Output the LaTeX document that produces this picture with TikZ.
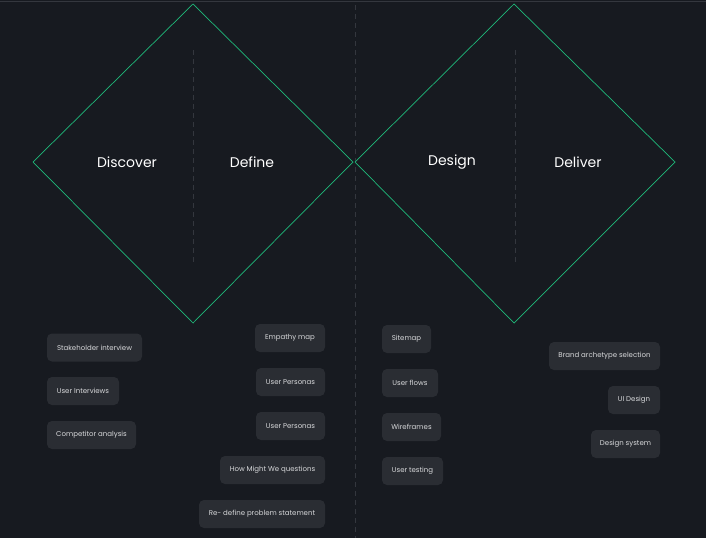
\documentclass[tikz,border=0pt]{standalone}
\usepackage{fontspec}
\setmainfont{Poppins}
\begin{document}
\begin{tikzpicture}[x=1pt,y=-1pt,
  chip/.style={fill=chipc,rounded corners=5pt,text=chipt,font=\fontsize{7}{8}\selectfont,inner sep=0pt,minimum height=28pt},
  title/.style={text=white,font=\fontsize{14}{16}\selectfont},
  dia/.style={draw=diac,line width=0.7pt},
  guide/.style={draw=guidec,dash pattern=on 5pt off 4pt,line width=0.6pt}]
\definecolor{bgc}{HTML}{171A20}
\definecolor{chipc}{HTML}{2A2D33}
\definecolor{chipt}{HTML}{D8D9DB}
\definecolor{diac}{HTML}{1FB97A}
\definecolor{guidec}{HTML}{34373E}
\fill[bgc] (0,0) rectangle (706,538);
\useasboundingbox (0,0) rectangle (706,538);
\draw[guidec,line width=1pt] (0,1) -- (706,1);
\draw[guide] (193,50) -- (193,265);
\draw[guide] (515,50) -- (515,265);
\draw[guide] (355,5) -- (355,538);
\draw[dia] (33,162) -- (193,4) -- (353,162) -- (193,323) -- cycle;
\draw[dia] (355,162) -- (514,4) -- (675,162) -- (514,323) -- cycle;
\node[title] (t1) at (127,162) {Discover};
\node[title] (t2) at (252,162) {Define};
\node[title] (t3) at (452,162) {Design};
\node[title] (t4) at (578,162) {Deliver};
\node[chip,minimum width=95pt] (a1) at (94.5,347.5) {Stakeholder interview};
\node[chip,minimum width=72pt] (a2) at (83,391) {User Interviews};
\node[chip,minimum width=89pt] (a3) at (91.5,435) {Competitor analysis};
\node[chip,minimum width=70pt] (b1) at (290,338) {Empathy map};
\node[chip,minimum width=69pt] (b2) at (290.5,382) {User Personas};
\node[chip,minimum width=69pt] (b3) at (290.5,426) {User Personas};
\node[chip,minimum width=105pt] (b4) at (272.5,470) {How Might We questions};
\node[chip,minimum width=126pt] (b5) at (262,514) {Re- define problem statement};
\node[chip,minimum width=49pt] (c1) at (406.5,339) {Sitemap};
\node[chip,minimum width=56pt] (c2) at (410,383) {User flows};
\node[chip,minimum width=59pt] (c3) at (411.5,427) {Wireframes};
\node[chip,minimum width=61pt] (c4) at (412.5,471) {User testing};
\node[chip,minimum width=111pt] (d1) at (604.5,356) {Brand archetype selection};
\node[chip,minimum width=52pt] (d2) at (634,400) {UI Design};
\node[chip,minimum width=69pt] (d3) at (625.5,444) {Design system};
\end{tikzpicture}
\end{document}
